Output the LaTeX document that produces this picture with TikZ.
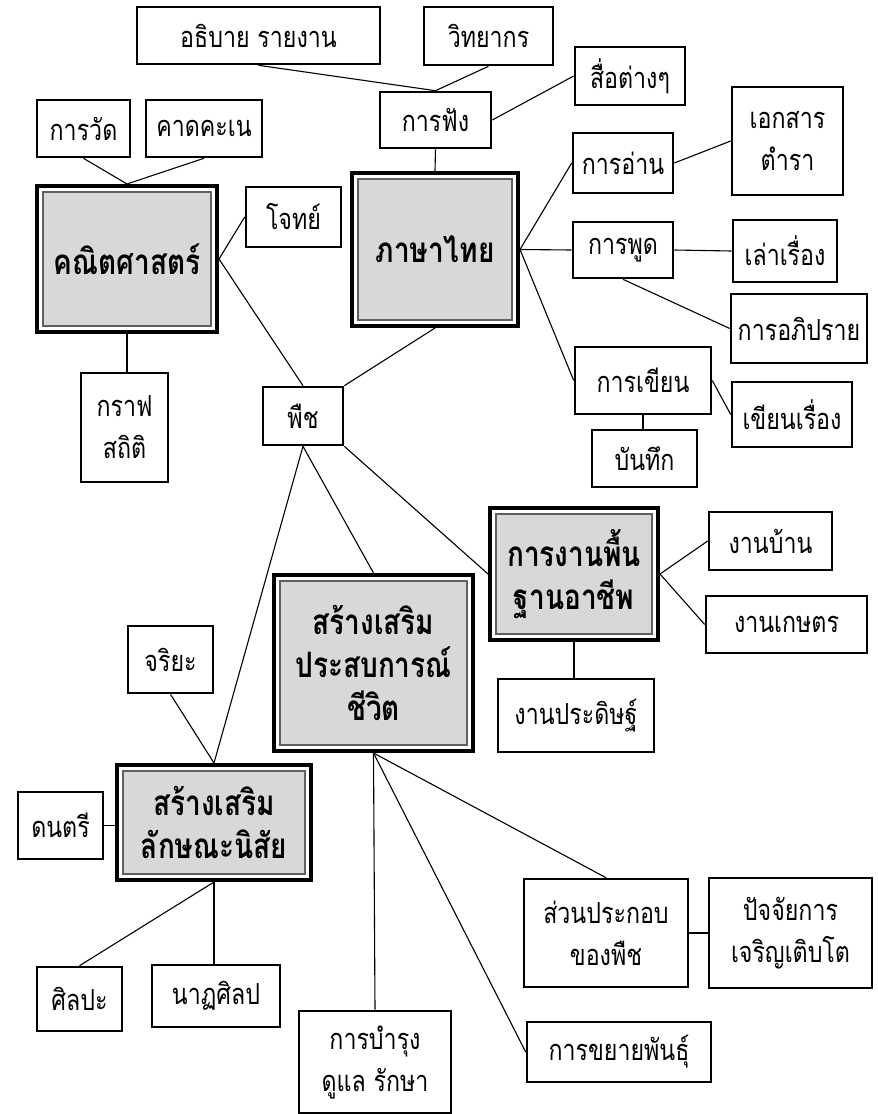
\documentclass[tikz,border=0pt]{standalone}
\usepackage{fontspec}
\setmainfont[Script=Thai, FakeStretch=0.8]{Loma}
\definecolor{mainfill}{HTML}{D8D8D8}
\definecolor{innerline}{HTML}{606060}
\tikzset{
  box/.style={draw, line width=2.6pt, fill=white, inner sep=0pt, align=center,
    font=\fontsize{29}{42}\selectfont},
  mainbox/.style={draw, line width=4pt, fill=white, inner sep=0pt, align=center,
    font=\fontsize{35}{43}\selectfont\bfseries,
    path picture={\draw[fill=mainfill, draw=innerline, line width=1.3pt]
      ([shift={(6pt,-6pt)}]path picture bounding box.north west) rectangle
      ([shift={(-6pt,6pt)}]path picture bounding box.south east);}},
  link/.style={line width=1.1pt}
}
\begin{document}
\begin{tikzpicture}[x=1pt,y=-1pt]
\useasboundingbox (0,0) rectangle (878,1114);
% nodes
\node[box, minimum width=243pt, minimum height=57pt] (explain) at (258.5,35.5) {อธิบาย รายงาน};
\node[box, minimum width=129pt, minimum height=58pt] (speaker) at (488.5,36) {วิทยากร};
\node[box, minimum width=110pt, minimum height=58pt] (media) at (630,76) {สื่อต่างๆ};
\node[box, minimum width=111pt, minimum height=56pt] (listen) at (435.5,120) {การฟัง};
\node[box, minimum width=93pt, minimum height=57pt] (measure) at (83.5,128.5) {การวัด};
\node[box, minimum width=116pt, minimum height=57pt] (estimate) at (204,128.5) {คาดคะเน};
\node[mainbox, minimum width=180pt, minimum height=146pt] (math) at (127,259) {คณิตศาสตร์};
\node[box, minimum width=95pt, minimum height=60pt] (problem) at (293.5,217) {โจทย์};
\node[box, minimum width=87pt, minimum height=109pt] (graph) at (124.5,427.5) {กราฟ\\สถิติ};
\node[box, minimum width=80pt, minimum height=58pt] (plant) at (303,416) {พืช};
\node[mainbox, minimum width=166pt, minimum height=153pt] (thai) at (435,249.5) {ภาษาไทย};
\node[box, minimum width=100pt, minimum height=60pt] (read) at (623,163) {การอ่าน};
\node[box, minimum width=111pt, minimum height=108pt] (docs) at (787.5,141) {เอกสาร\\ตำรา};
\node[box, minimum width=100pt, minimum height=56pt] (speak) at (623,250) {การพูด};
\node[box, minimum width=104pt, minimum height=62pt] (tell) at (785,251) {เล่าเรื่อง};
\node[box, minimum width=136pt, minimum height=69pt] (discuss) at (799,328.5) {การอภิปราย};
\node[box, minimum width=136pt, minimum height=67pt] (write) at (643,380.5) {การเขียน};
\node[box, minimum width=120pt, minimum height=65pt] (story) at (792,414.5) {เขียนเรื่อง};
\node[box, minimum width=105pt, minimum height=57pt] (record) at (644.5,458.5) {บันทึก};
\node[mainbox, minimum width=168pt, minimum height=132pt] (career) at (574,574) {การงานพื้น\\ฐานอาชีพ};
\node[box, minimum width=123pt, minimum height=58pt] (home) at (770.5,541) {งานบ้าน};
\node[box, minimum width=161pt, minimum height=57pt] (farm) at (786.5,624.5) {งานเกษตร};
\node[box, minimum width=156pt, minimum height=73pt] (craft) at (576,715.5) {งานประดิษฐ์};
\node[mainbox, minimum width=199pt, minimum height=176pt] (life) at (373.5,663) {สร้างเสริม\\ประสบการณ์\\ชีวิต};
\node[box, minimum width=85pt, minimum height=67pt] (ethics) at (170.5,659.5) {จริยะ};
\node[mainbox, minimum width=194pt, minimum height=115pt] (char) at (214,822.5) {สร้างเสริม\\ลักษณะนิสัย};
\node[box, minimum width=85pt, minimum height=67pt] (music) at (60.5,825.5) {ดนตรี};
\node[box, minimum width=85pt, minimum height=64pt] (art) at (79.5,999) {ศิลปะ};
\node[box, minimum width=128pt, minimum height=62pt] (dance) at (216,996) {นาฏศิลป};
\node[box, minimum width=152pt, minimum height=102pt] (care) at (375,1062) {การบำรุง\\ดูแล รักษา};
\node[box, minimum width=184pt, minimum height=60pt] (prop) at (619,1052) {การขยายพันธุ์};
\node[box, minimum width=164pt, minimum height=108pt] (parts) at (606,933) {ส่วนประกอบ\\ของพืช};
\node[box, minimum width=163pt, minimum height=110pt] (growth) at (790.5,933) {ปัจจัยการ\\เจริญเติบโต};
% connectors
\draw[link] (explain.south) -- (listen.north);
\draw[link] (speaker.south) -- (listen.north);
\draw[link] (media.west) -- (listen.east);
\draw[link] (listen.south) -- (thai.north);
\draw[link] (measure.south) -- (math.north);
\draw[link] (estimate.south) -- (math.north);
\draw[link] (problem.west) -- (math.east);
\draw[link] (math.east) -- (plant.north);
\draw[link] (math.south) -- (math.south |- graph.north);
\draw[link] (plant.north east) -- (thai.south);
\draw[link] (thai.east) -- (read.west);
\draw[link] (thai.east) -- (speak.west);
\draw[link] (thai.east) -- (write.west);
\draw[link] (read.east) -- (docs.west);
\draw[link] (speak.east) -- (tell.west);
\draw[link] (speak.south) -- (discuss.west);
\draw[link] (write.east) -- (story.west);
\draw[link] (write.south) -- (write.south |- record.north);
\draw[link] (plant.south east) -- (career.west);
\draw[link] (plant.south) -- (life.north);
\draw[link] (plant.south) -- (char.north);
\draw[link] (career.east) -- (home.west);
\draw[link] (career.east) -- (farm.west);
\draw[link] (career.south) -- (career.south |- craft.north);
\draw[link] (ethics.south) -- (char.north);
\draw[link] (music.east) -- (music.east -| char.west);
\draw[link] (char.south) -- (art.north);
\draw[link] (char.south) -- (char.south |- dance.north);
\draw[link] (life.south) -- (care.north);
\draw[link] (life.south) -- (prop.west);
\draw[link] (life.south) -- (parts.north);
\draw[link] (parts.east) -- (growth.west);
\end{tikzpicture}
\end{document}
